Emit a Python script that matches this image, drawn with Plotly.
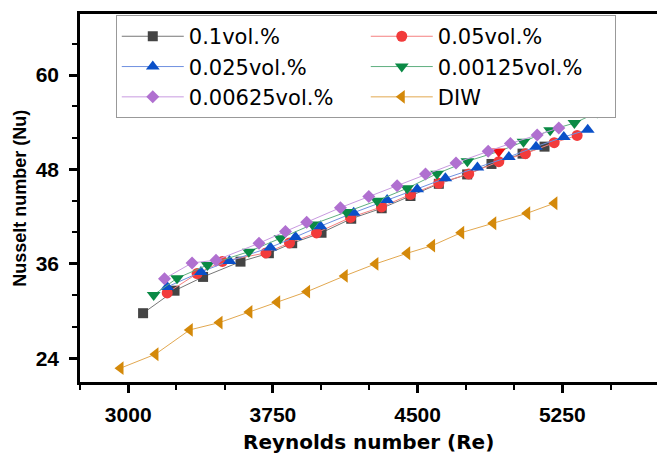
import plotly.graph_objects as go

# ---- data ----
re_01 = [3077, 3240, 3388, 3582, 3729, 3850, 4002, 4156, 4314, 4463, 4610, 4757, 4883, 5044, 5158]
nu_01 = [29.74, 32.60, 34.35, 36.29, 37.36, 38.63, 39.96, 41.74, 43.07, 44.63, 46.18, 47.37, 48.70, 50.01, 50.90]

re_005 = [3202, 3357, 3488, 3714, 3836, 3976, 4152, 4313, 4463, 4610, 4765, 4921, 5059, 5208, 5327]
nu_005 = [32.32, 34.77, 36.32, 37.40, 38.67, 39.94, 41.90, 43.24, 44.83, 46.25, 47.43, 48.99, 50.01, 51.40, 52.32]

re_0025 = [3202, 3377, 3525, 3737, 3867, 3996, 4169, 4342, 4498, 4644, 4810, 4973, 5114, 5258, 5382]
nu_0025 = [33.08, 34.98, 36.38, 38.10, 39.43, 40.79, 42.51, 44.13, 45.49, 46.88, 48.25, 49.59, 50.90, 52.13, 53.05]

re_000125 = [3132, 3253, 3411, 3625, 3789, 3955, 4131, 4290, 4446, 4601, 4758, 4921, 5049, 5187, 5313, 5431]
nu_000125 = [32.06, 34.18, 35.87, 37.56, 39.26, 41.02, 42.60, 44.04, 45.61, 47.47, 49.04, 50.29, 51.53, 52.98, 53.90, 55.24]

re_000625 = [3188, 3331, 3455, 3678, 3815, 3925, 4100, 4247, 4394, 4541, 4699, 4866, 4981, 5120, 5232]
nu_000625 = [34.13, 36.13, 36.47, 38.63, 40.13, 41.30, 43.15, 44.55, 45.94, 47.43, 48.83, 50.31, 51.30, 52.38, 53.27]

re_diw = [2960, 3141, 3319, 3473, 3628, 3772, 3927, 4122, 4281, 4446, 4575, 4726, 4892, 5068, 5209]
nu_diw = [22.76, 24.53, 27.62, 28.55, 29.90, 31.14, 32.48, 34.48, 36.00, 37.36, 38.32, 39.97, 41.17, 42.44, 43.71]

names = ["0.1vol.%", "0.05vol.%", "0.025vol.%", "0.00125vol.%", "0.00625vol.%", "DIW"]
x_title = "Reynolds number (Re)"
y_title = "Nusselt number (Nu)"

# ---- styles ----
series = [
    (re_01, nu_01, names[0], "square", 10, "#444444", "#777777"),
    (re_005, nu_005, names[1], "circle", 11, "#F23B3B", "#F58080"),
    (re_0025, nu_0025, names[2], "triangle-up", 12, "#0A50C8", "#7090E0"),
    (re_000125, nu_000125, names[3], "triangle-down", 12, "#0A8A45", "#60B080"),
    (re_000625, nu_000625, names[4], "diamond", 10, "#B070D0", "#C89AE0"),
    (re_diw, nu_diw, names[5], "triangle-left", 12, "#D4890A", "#E2A850"),
]

fig = go.Figure()
for x, y, nm, sym, sz, mc, lc in series:
    mcol = mc
    if nm == "0.00125vol.%":
        mcol = [mc] * len(x)
        mcol[11] = "#F01010"
    fig.add_trace(go.Scatter(
        x=x, y=y, name=nm, mode="lines+markers",
        line=dict(color=lc, width=1),
        marker=dict(symbol=sym, size=sz, color=mcol, line=dict(width=0)),
    ))

axis_font = dict(family="Liberation Sans, Arial", size=21, color="black", weight="bold")

fig.update_layout(
    template="none",
    width=657, height=455,
    margin=dict(l=80, r=0, t=14, b=73),
    paper_bgcolor="white", plot_bgcolor="white",
    showlegend=True,
    legend=dict(
        orientation="h", x=0.062, y=0.997, xanchor="left", yanchor="top",
        entrywidth=172, entrywidthmode="pixels",
        itemwidth=62,
        font=dict(family="DejaVu Sans", size=21, color="black"),
        bordercolor="#999999", borderwidth=1, bgcolor="white",
        traceorder="normal",
    ),
    xaxis=dict(
        range=[2750, 5741], tick0=3000, dtick=750, automargin=False,
        showline=True, linecolor="black", linewidth=2.5, mirror=True,
        ticks="outside", ticklen=8, tickwidth=2.5, tickcolor="black",
        minor=dict(ticks="outside", ticklen=5, tickwidth=2, tickcolor="black", dtick=250, tick0=3000),
        showgrid=False, zeroline=False,
        tickfont=axis_font, ticklabelstandoff=4,
    ),
    yaxis=dict(
        range=[21, 67.75], tick0=24, dtick=12, automargin=False,
        showline=True, linecolor="black", linewidth=2.5, mirror=False,
        ticks="outside", ticklen=8, tickwidth=2.5, tickcolor="black",
        minor=dict(ticks="outside", ticklen=5, tickwidth=2, tickcolor="black", dtick=4, tick0=24),
        showgrid=False, zeroline=False,
        tickfont=axis_font, ticklabelstandoff=6,
    ),
    annotations=[
        dict(text=x_title, xref="paper", yref="paper", x=0.5, y=-0.162,
             xanchor="center", yanchor="middle", showarrow=False,
             font=dict(family="DejaVu Sans", size=20, color="black", weight="bold")),
        dict(text=y_title, xref="paper", yref="paper", x=-0.1045, y=0.5,
             xanchor="center", yanchor="middle", showarrow=False, textangle=-90,
             font=dict(family="Liberation Sans, Arial", size=18, color="black", weight="bold")),
    ],
)

fig.write_html("out.html")
